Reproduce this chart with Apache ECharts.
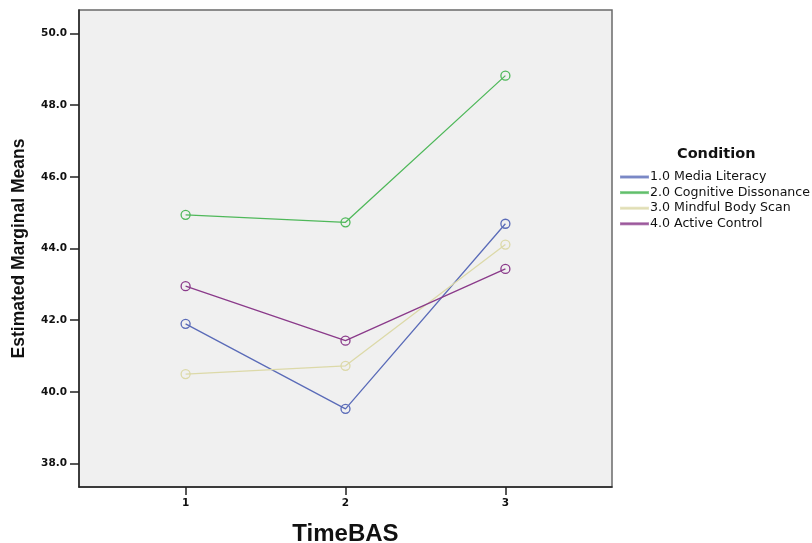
<!DOCTYPE html>
<html>
<head>
<meta charset="utf-8">
<script src="https://cdn.jsdelivr.net/npm/echarts@6/dist/echarts.min.js"></script>
<style>
html,body{margin:0;padding:0;background:#fff;}
#chart{width:812px;height:543px;}
</style>
</head>
<body>
<div id="chart"></div>
<script>
const timePoints = [1, 2, 3];
const tickLabelsY = [38, 40, 42, 44, 46, 48, 50];
const seriesNames = ['1.0 Media Literacy', '2.0 Cognitive Dissonance', '3.0 Mindful Body Scan', '4.0 Active Control'];
const mediaLiteracy = [41.90, 39.53, 44.69];
const cognitiveDissonance = [44.94, 44.73, 48.82];
const mindfulBodyScan = [40.50, 40.73, 44.11];
const activeControl = [42.95, 41.43, 43.43];
const colors = ['#5a6bb8', '#4fb85a', '#dcd9a8', '#8a3a8a'];

const allValues = [mediaLiteracy, cognitiveDissonance, mindfulBodyScan, activeControl];

const chart = echarts.init(document.getElementById('chart'), null, {renderer: 'canvas'});
const series = allValues.map((vals, i) => ({
  name: seriesNames[i],
  type: 'line',
  data: timePoints.map((t, j) => [t, vals[j]]),
  symbol: 'circle',
  symbolSize: 9,
  showSymbol: true,
  lineStyle: {color: colors[i], width: 1.3},
  itemStyle: {color: 'rgba(0,0,0,0)', borderColor: colors[i], borderWidth: 1.3},
  emphasis: {disabled: true},
  animation: false
}));

chart.setOption({
  animation: false,
  color: colors,
  grid: {
    left: 79, right: 200, top: 10, bottom: 56,
    outerBoundsMode: 'none',
    containLabel: false,
    show: true, backgroundColor: '#f0f0f0', borderColor: '#6a6a6a', borderWidth: 1.5
  },
  xAxis: {
    type: 'value',
    min: 1/3, max: 11/3,
    name: 'TimeBAS',
    nameLocation: 'middle',
    nameGap: 35,
    nameTextStyle: {fontFamily: 'Liberation Sans', fontWeight: 'bold', fontSize: 24, color: '#111'},
    axisLine: {show: true, onZero: false, lineStyle: {color: '#222', width: 1.5}},
    axisTick: {show: true, length: 8, customValues: timePoints, lineStyle: {color: '#222', width: 1.5}},
    axisLabel: {customValues: timePoints, margin: 11, fontFamily: 'DejaVu Sans', fontWeight: 'bold', fontSize: 10.5, color: '#111',
      formatter: v => String(Math.round(v))},
    splitLine: {show: false}
  },
  yAxis: {
    type: 'value',
    min: 37.35, max: 50.65,
    name: 'Estimated Marginal Means',
    nameLocation: 'middle',
    nameGap: 51,
    nameRotate: 90,
    nameTextStyle: {fontFamily: 'Liberation Sans', fontWeight: 'bold', fontSize: 17.5, color: '#111'},
    axisLine: {show: true, onZero: false, lineStyle: {color: '#222', width: 1.5}},
    axisTick: {show: true, length: 9, customValues: tickLabelsY, lineStyle: {color: '#222', width: 1.5}},
    axisLabel: {customValues: tickLabelsY, margin: 12, fontFamily: 'DejaVu Sans', fontWeight: 'bold', fontSize: 10.5, color: '#111',
      formatter: v => v.toFixed(1)},
    splitLine: {show: false}
  },
  legend: {
    orient: 'vertical',
    left: 615, top: 165,
    icon: 'rect',
    itemWidth: 27, itemHeight: 1,
    itemGap: 1.6,
    selectedMode: false,
    textStyle: {fontFamily: 'DejaVu Sans', fontSize: 12.6, color: '#111', lineHeight: 14, padding: [0,0,0,-3]},
    data: seriesNames.map((n, i) => ({name: n, itemStyle: {color: colors[i], opacity: 0.7}}))
  },
  graphic: [{
    type: 'text',
    left: 677, top: 147,
    style: {text: 'Condition', fontFamily: 'DejaVu Sans', fontWeight: 'bold', fontSize: 14.5, fill: '#111'}
  }],
  series: series
});
</script>
</body>
</html>
